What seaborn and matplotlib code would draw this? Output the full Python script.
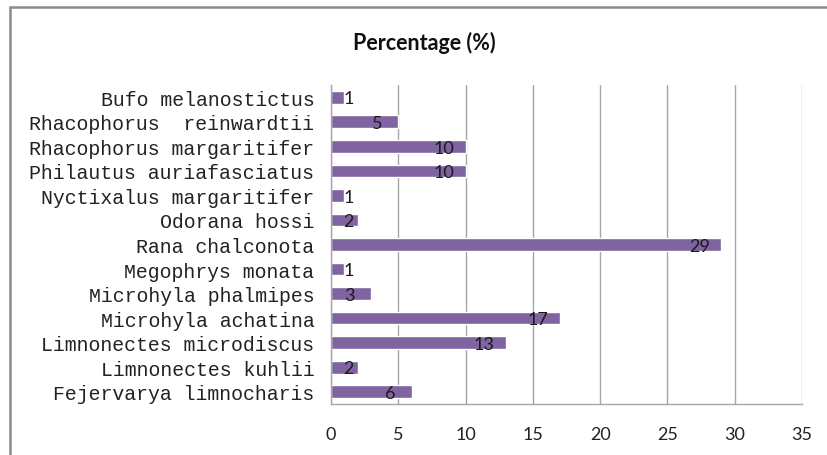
import pandas as pd
import numpy as np
import matplotlib
matplotlib.use("Agg")
import matplotlib.pyplot as plt
from matplotlib.patches import Rectangle
import seaborn as sns

# Data (top to bottom)
species = [
    "Bufo melanostictus",
    "Rhacophorus  reinwardtii",
    "Rhacophorus margaritifer",
    "Philautus auriafasciatus",
    "Nyctixalus margaritifer",
    "Odorana hossi",
    "Rana chalconota",
    "Megophrys monata",
    "Microhyla phalmipes",
    "Microhyla achatina",
    "Limnonectes microdiscus",
    "Limnonectes kuhlii",
    "Fejervarya limnocharis",
]
percentage = [1, 5, 10, 10, 1, 2, 29, 1, 3, 17, 13, 2, 6]
x_ticks = [0, 5, 10, 15, 20, 25, 30, 35]

df = pd.DataFrame({"species": species, "pct": percentage})

sns.set_style("white")
plt.rcParams["font.family"] = ["Lato", "DejaVu Sans"]

bar_color = "#8064a2"
grid_color = "#a6a6a6"

fig = plt.figure(figsize=(8.28, 4.56), dpi=100)
ax = fig.add_axes([331 / 828, 1 - 405 / 456, (802 - 331) / 828, (405 - 86) / 456])

sns.barplot(data=df, x="pct", y="species", order=species, color=bar_color,
            saturation=1, width=0.52, orient="h", ax=ax)

ax.set_xlim(0, 35)
ax.set_ylim(len(species) - 0.5, -0.5)
ax.set_xticks(x_ticks)
ax.set_xticklabels([str(t) for t in x_ticks], fontsize=13, color="#222222")
ax.set_yticks(range(len(species)))
ax.set_yticklabels(species, family="Liberation Mono", fontsize=14.3, color="#222222")
ax.tick_params(axis="x", length=0, pad=16)
ax.tick_params(axis="y", length=0, pad=12)
ax.set_xlabel("")
ax.set_ylabel("")

ax.xaxis.grid(True, color=grid_color, linewidth=1)
ax.set_axisbelow(True)
for side in ["top", "right"]:
    ax.spines[side].set_visible(False)
for side in ["left", "bottom"]:
    ax.spines[side].set_color(grid_color)
    ax.spines[side].set_linewidth(1)

# data labels near the inside end of each bar
for i, v in enumerate(percentage):
    ax.text(max(v - 1.6, 1.3), i + 0.05, str(v), ha="center", va="center",
            fontsize=13, color="#1a1a1a")

fig.text(424 / 828, 1 - 43 / 456, "Percentage (%)", ha="center", va="center",
         fontsize=15.5, fontweight="bold", color="#111111")

# chart area border (cut off at right and bottom like the reference)
fig.patches.append(Rectangle((10 / 828, -0.1), 1.0, 1 - 8 / 456 + 0.1,
                             transform=fig.transFigure, fill=False,
                             edgecolor="#8c8c8c", linewidth=1.8))

fig.savefig("out.png", dpi=100)
